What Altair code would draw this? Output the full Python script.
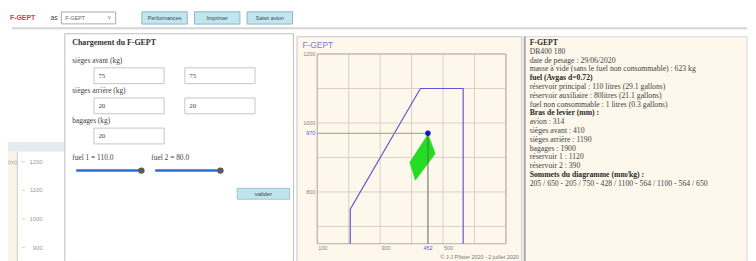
import altair as alt
import pandas as pd

# ----------------------------------------------------------------- data
aircraft = "F-GEPT"
menu_buttons = ["Performances", "Imprimer", "Saisir avion"]

# centre-of-gravity envelope (mm / kg)
env_mm = [205, 205, 428, 564, 564]
env_kg = [650, 750, 1100, 1100, 650]

# loading polygon (fuel variations)
load_mm = [452, 475, 412, 394]
load_kg = [968, 911, 834, 887]

cg_mm = 452
total_kg = 970

mm_domain = [100, 700]
kg_domain = [650, 1200]
grid_mm = [100, 200, 300, 400, 500, 600, 700]
grid_kg = [700, 800, 900, 1000, 1100, 1200]
x_tick_labels = [100, 300, 500]
y_tick_labels = [800, 1000, 1200]

bg_axis_labels = [1200, 1100, 1000, 900]

form_fields = ["sièges avant (kg)", "sièges arrière (kg)", "bagages (kg)"]
front_seats = [75, 75]
rear_seats = [20, 20]
baggage = [20]
fuel_tanks = [110.0, 80.0]

info_lines = [
    "F-GEPT",
    "DR400 180",
    "date de pesage : 29/06/2020",
    "masse à vide (sans le fuel non consommable) : 623 kg",
    "fuel (Avgas d=0.72)",
    "réservoir principal : 110 litres (29.1 gallons)",
    "réservoir auxiliaire : 80litres (21.1 gallons)",
    "fuel non consommable : 1 litres (0.3 gallons)",
    "Bras de levier (mm) :",
    "avion : 314",
    "sièges avant : 410",
    "sièges arrière : 1190",
    "bagages : 1900",
    "réservoir 1 : 1120",
    "réservoir 2 : 390",
    "Sommets du diagramme (mm/kg) :",
]
bold_lines = [0, 4, 8, 15]

# ----------------------------------------------------------------- style
SERIF = "Liberation Serif"
SANS = "Liberation Sans"
INK = "#444444"
CREAM = "#fdf7ec"
GRID = "#d8d1c2"
ENV = "#6256d6"
GREEN = "#22dd22"

one = pd.DataFrame({"k": [0]})


def rect(x, x2, y, y2, fill, stroke=None, sw=1.0):
    kw = dict(fill=fill)
    if stroke:
        kw.update(stroke=stroke, strokeWidth=sw)
    return alt.Chart(one).mark_rect(**kw).encode(
        x=alt.value(x), x2=alt.value(x2), y=alt.value(y), y2=alt.value(y2))


def hline(x, x2, y, color, sw=1.0):
    return alt.Chart(one).mark_rule(color=color, strokeWidth=sw).encode(
        x=alt.value(x), x2=alt.value(x2), y=alt.value(y))


def vline(x, y, y2, color, sw=1.0):
    return alt.Chart(one).mark_rule(color=color, strokeWidth=sw).encode(
        x=alt.value(x), y=alt.value(y), y2=alt.value(y2))


def label(text, x, y, size, color=INK, font=SERIF, weight="normal", align="left"):
    return alt.Chart(one).mark_text(
        text=text, font=font, fontSize=size, fontWeight=weight, color=color,
        align=align, baseline="middle").encode(x=alt.value(x), y=alt.value(y))


# ----------------------------------------------------------------- top bar
btn_df = pd.DataFrame({"i": list(range(len(menu_buttons))), "label": menu_buttons})
btn_x = alt.X("i:Q", scale=alt.Scale(domain=[0, 2], range=[158.5, 265], nice=False, zero=False), axis=None)
BTN_SHAPE = "M-1,-0.27H1V0.27H-1Z"
buttons = alt.Chart(btn_df).mark_point(
    shape=BTN_SHAPE, size=2116, filled=True, fill="#c3e5ee", stroke="#8ab6c6",
    strokeWidth=1, opacity=1).encode(x=btn_x, y=alt.value(6.5))
btn_text = alt.Chart(btn_df).mark_text(
    font=SANS, fontSize=5.5, color="#2c4b57", baseline="middle").encode(
    x=btn_x, y=alt.value(6.5), text="label:N")

top = alt.layer(
    label(aircraft, 2, 6.5, 7, "#d6403a", SANS, "bold"),
    label("as", 43, 6.5, 7, INK, SANS),
    rect(54, 109, 0.5, 12.5, "white", "#aaaaaa"),
    label(aircraft, 58, 6.5, 5.5, "#666666", SANS),
    label("v", 101, 6, 6, "#777777", SANS),
    buttons,
    btn_text,
    hline(4, 748, 17, "#d4d4d4", 2),
).properties(width=748, height=22)

# ----------------------------------------------------------------- left strip (page behind)
bg_df = pd.DataFrame({"v": bg_axis_labels})
bg_y = alt.Y("v:Q", scale=alt.Scale(domain=[900, 1200], range=[217, 130], nice=False, zero=False), axis=None)
left = alt.layer(
    rect(0, 57, 110, 120, "#e4ecf0"),
    rect(0, 9, 120, 231, "#faf3e7"),
    vline(9.5, 120, 231, "#c9c9c9"),
    alt.Chart(bg_df).mark_rule(color="#cccccc").encode(x=alt.value(14), x2=alt.value(17), y=bg_y),
    alt.Chart(bg_df).mark_text(font=SANS, fontSize=6, color="#9a9a9a", align="right", baseline="middle").encode(
        x=alt.value(35), y=bg_y, text=alt.Text("v:Q", format="d")),
    label("(m)", 0, 130, 6, "#9a9a9a", SANS),
).properties(width=57, height=231)

# ----------------------------------------------------------------- form panel
row_scale = alt.Scale(domain=[0, 2], range=[28, 89], nice=False, zero=False)
col_scale = alt.Scale(domain=[0, 1], range=[65.5, 157.5], nice=False, zero=False)
field_df = pd.DataFrame({"row": list(range(len(form_fields))), "label": form_fields})
inputs = ([(0, c, v) for c, v in enumerate(front_seats)]
          + [(1, c, v) for c, v in enumerate(rear_seats)]
          + [(2, c, v) for c, v in enumerate(baggage)])
inputs_df = pd.DataFrame(inputs, columns=["row", "col", "val"])
fuel_df = pd.DataFrame({"i": list(range(len(fuel_tanks))),
                        "label": [f"fuel {i + 1} = {v:.1f}" for i, v in enumerate(fuel_tanks)]})
BOX_SHAPE = "M-1,-0.2254H1V0.2254H-1Z"

form = alt.layer(
    rect(0.5, 232, 0.5, 231, "white", "#bdbdbd"),
    label(f"Chargement du {aircraft}", 8, 10, 8, "#333333", SERIF, "bold"),
    alt.Chart(field_df).mark_text(font=SERIF, fontSize=7.5, color=INK, align="left", baseline="middle").encode(
        x=alt.value(8), y=alt.Y("row:Q", scale=row_scale, axis=None), text="label:N"),
    alt.Chart(inputs_df).mark_point(
        shape=BOX_SHAPE, size=5041, filled=True, fill="white", stroke="#c4c4c4",
        strokeWidth=1, opacity=1, yOffset=15).encode(
        x=alt.X("col:Q", scale=col_scale, axis=None), y=alt.Y("row:Q", scale=row_scale, axis=None)),
    alt.Chart(inputs_df).mark_text(
        font=SERIF, fontSize=7, color=INK, align="left", baseline="middle", dx=-31, yOffset=15).encode(
        x=alt.X("col:Q", scale=col_scale, axis=None), y=alt.Y("row:Q", scale=row_scale, axis=None),
        text="val:N"),
    alt.Chart(fuel_df).mark_text(font=SERIF, fontSize=7.5, color=INK, align="left", baseline="middle").encode(
        x=alt.X("i:Q", scale=alt.Scale(domain=[0, 1], range=[8, 88], nice=False, zero=False), axis=None),
        y=alt.value(126), text="label:N"),
    hline(12, 78, 139, "#2a6ed8", 2.5),
    hline(92, 158, 139, "#2a6ed8", 2.5),
    alt.Chart(one).mark_circle(size=42, color="#5a5a5a", opacity=1).encode(x=alt.value(78), y=alt.value(139)),
    alt.Chart(one).mark_circle(size=42, color="#5a5a5a", opacity=1).encode(x=alt.value(158), y=alt.value(139)),
    rect(175, 228, 157, 168, "#bfe6ee", "#9cc5cf"),
    label("valider", 201.5, 162.5, 6, INK, SANS, align="center"),
).resolve_scale(x="independent", y="independent").properties(width=235, height=231)

# ----------------------------------------------------------------- envelope chart
xs = alt.Scale(domain=mm_domain, range=[21, 212], nice=False, zero=False)
ys = alt.Scale(domain=kg_domain, range=[213, 21], nice=False, zero=False)

env_df = pd.DataFrame({"i": list(range(len(env_mm))), "mm": env_mm, "kg": env_kg})
load_df = pd.DataFrame({"i": list(range(len(load_mm))), "mm": load_mm, "kg": load_kg})
cg_df = pd.DataFrame({"mm": [cg_mm], "kg": [total_kg], "mm0": [mm_domain[0]], "kg0": [kg_domain[0]]})
gx_df = pd.DataFrame({"mm": grid_mm, "kg0": kg_domain[0], "kg1": kg_domain[1]})
gy_df = pd.DataFrame({"kg": grid_kg, "mm0": mm_domain[0], "mm1": mm_domain[1]})
frame_df = pd.DataFrame({"mm0": [mm_domain[0]], "mm1": [mm_domain[1]], "kg0": [kg_domain[0]], "kg1": [kg_domain[1]]})
xl_df = pd.DataFrame({"mm": x_tick_labels})
yl_df = pd.DataFrame({"kg": y_tick_labels})


def X(f):
    return alt.X(f, scale=xs, axis=None)


def Y(f):
    return alt.Y(f, scale=ys, axis=None)


env = alt.layer(
    rect(0.5, 228, 3.5, 231, CREAM, "#c6c6c6"),
    label(aircraft, 6, 12, 8.5, "#7b7bd6", SANS),
    alt.Chart(gx_df).mark_rule(color=GRID, strokeWidth=1).encode(
        x=X("mm:Q"), y=Y("kg0:Q"), y2="kg1:Q"),
    alt.Chart(gy_df).mark_rule(color=GRID, strokeWidth=1).encode(
        y=Y("kg:Q"), x=X("mm0:Q"), x2="mm1:Q"),
    alt.Chart(frame_df).mark_rect(fill="transparent", stroke="#b8b0a0", strokeWidth=1).encode(
        x=X("mm0:Q"), x2="mm1:Q", y=Y("kg0:Q"), y2="kg1:Q"),
    alt.Chart(env_df).mark_line(color=ENV, strokeWidth=1.2).encode(
        x=X("mm:Q"), y=Y("kg:Q"), order="i:Q"),
    alt.Chart(load_df).mark_line(fill=GREEN, color=GREEN, strokeWidth=0.6).encode(
        x=X("mm:Q"), y=Y("kg:Q"), order="i:Q"),
    alt.Chart(cg_df).mark_rule(color="#6fb26f", strokeWidth=1).encode(
        y=Y("kg:Q"), x=X("mm0:Q"), x2="mm:Q"),
    alt.Chart(cg_df).mark_rule(color="#5d6b4c", strokeWidth=1).encode(
        x=X("mm:Q"), y=Y("kg:Q"), y2="kg0:Q"),
    alt.Chart(cg_df).mark_circle(size=30, color="#1515c8", opacity=1).encode(x=X("mm:Q"), y=Y("kg:Q")),
    alt.Chart(yl_df).mark_text(font=SANS, fontSize=5.5, color="#888888", align="right", baseline="middle").encode(
        x=alt.value(19), y=Y("kg:Q"), text=alt.Text("kg:Q", format="d")),
    alt.Chart(xl_df).mark_text(font=SANS, fontSize=5.5, color="#888888", align="left", baseline="top", dx=1).encode(
        x=X("mm:Q"), y=alt.value(215), text=alt.Text("mm:Q", format="d")),
    alt.Chart(cg_df).mark_text(font=SANS, fontSize=5.5, color=ENV, align="right", baseline="middle").encode(
        x=alt.value(19), y=Y("kg:Q"), text=alt.Text("kg:Q", format="d")),
    alt.Chart(cg_df).mark_text(font=SANS, fontSize=5.5, color=ENV, align="center", baseline="top").encode(
        x=X("mm:Q"), y=alt.value(215), text=alt.Text("mm:Q", format="d")),
    label("© J-J Pfister 2020 - 2 juillet 2020", 225, 226, 5.5, "#777777", SANS, align="right"),
).properties(width=230, height=231)

# ----------------------------------------------------------------- info panel
lines = info_lines + [" - ".join(f"{m} / {k}" for m, k in zip(env_mm, env_kg))]
info_df = pd.DataFrame({"i": list(range(len(lines))), "line": lines,
                        "b": [1 if i in bold_lines else 0 for i in range(len(lines))]})
iy = alt.Y("i:Q", scale=alt.Scale(domain=[0, 16], range=[10, 152.4], nice=False, zero=False), axis=None)

text_panel = alt.layer(
    rect(0.5, 226, 3.5, 231, CREAM, "#d6d6d6"),
    vline(1, 3, 231, "#a8a8a8", 2),
    alt.Chart(info_df).transform_filter("datum.b == 0").mark_text(
        font=SERIF, fontSize=7.8, color=INK, align="left", baseline="middle").encode(
        x=alt.value(6), y=iy, text="line:N"),
    alt.Chart(info_df).transform_filter("datum.b == 1").mark_text(
        font=SERIF, fontSize=7.8, fontWeight="bold", color="#2a2a2a", align="left", baseline="middle").encode(
        x=alt.value(6), y=iy, text="line:N"),
).properties(width=226, height=231)

# ----------------------------------------------------------------- page
chart = alt.vconcat(
    top,
    alt.hconcat(left, form, env, text_panel, spacing=0, bounds="flush"),
    spacing=0, bounds="flush",
).properties(padding=0, background="white").configure_view(strokeWidth=0)

chart.save("out.html", embed_options={"renderer": "svg", "actions": False})
